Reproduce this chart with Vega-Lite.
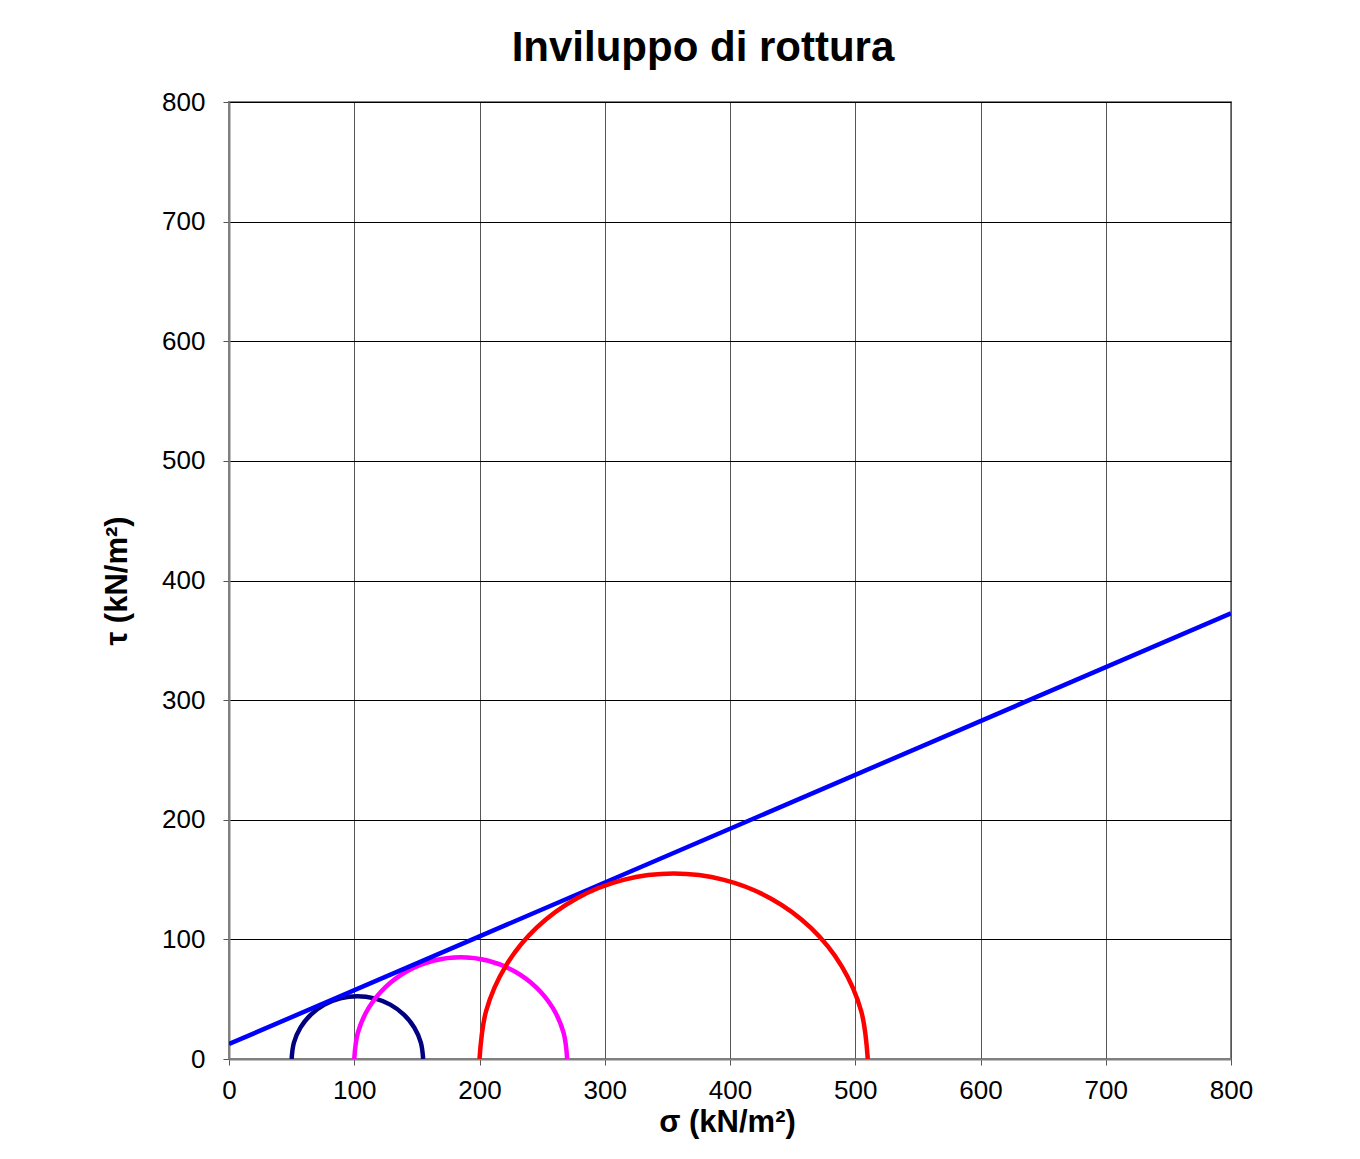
{
  "$schema": "https://vega.github.io/schema/vega-lite/v6.json",
  "width": 1002,
  "height": 957,
  "autosize": {"type": "none"},
  "padding": {"left": 229, "top": 102, "right": 129, "bottom": 100},
  "background": "white",
  "title": {
    "text": "Inviluppo di rottura",
    "font": "Liberation Sans",
    "fontSize": 42,
    "fontWeight": "bold",
    "color": "black",
    "anchor": "middle",
    "dx": -27,
    "offset": 19
  },
  "config": {
    "view": {"stroke": "#808080", "strokeWidth": 2},
    "axis": {
      "labelFont": "Liberation Sans",
      "labelFontSize": 26,
      "labelColor": "black",
      "labelFlush": false,
      "titleFont": "Liberation Sans",
      "titleFontSize": 31,
      "titleFontWeight": "bold",
      "titleColor": "black",
      "domainColor": "#808080",
      "domainWidth": 2,
      "tickColor": "#555555",
      "tickSize": 6,
      "tickWidth": 1,
      "grid": true,
      "gridOpacity": 1
    }
  },
  "data": {
    "values": [
      {"serie": "C1", "i": 0, "s": 50, "t": 0},
      {"serie": "C1", "i": 1, "s": 51.79, "t": 13.59},
      {"serie": "C1", "i": 2, "s": 57.03, "t": 26.25},
      {"serie": "C1", "i": 3, "s": 65.38, "t": 37.12},
      {"serie": "C1", "i": 4, "s": 76.25, "t": 45.47},
      {"serie": "C1", "i": 5, "s": 88.91, "t": 50.71},
      {"serie": "C1", "i": 6, "s": 102.5, "t": 52.5},
      {"serie": "C1", "i": 7, "s": 116.09, "t": 50.71},
      {"serie": "C1", "i": 8, "s": 128.75, "t": 45.47},
      {"serie": "C1", "i": 9, "s": 139.62, "t": 37.12},
      {"serie": "C1", "i": 10, "s": 147.97, "t": 26.25},
      {"serie": "C1", "i": 11, "s": 153.21, "t": 13.59},
      {"serie": "C1", "i": 12, "s": 155, "t": 0},
      {"serie": "C2", "i": 0, "s": 100, "t": 0},
      {"serie": "C2", "i": 1, "s": 102.9, "t": 22.0},
      {"serie": "C2", "i": 2, "s": 111.39, "t": 42.5},
      {"serie": "C2", "i": 3, "s": 124.9, "t": 60.1},
      {"serie": "C2", "i": 4, "s": 142.5, "t": 73.61},
      {"serie": "C2", "i": 5, "s": 163.0, "t": 82.1},
      {"serie": "C2", "i": 6, "s": 185, "t": 85},
      {"serie": "C2", "i": 7, "s": 207.0, "t": 82.1},
      {"serie": "C2", "i": 8, "s": 227.5, "t": 73.61},
      {"serie": "C2", "i": 9, "s": 245.1, "t": 60.1},
      {"serie": "C2", "i": 10, "s": 258.61, "t": 42.5},
      {"serie": "C2", "i": 11, "s": 267.1, "t": 22.0},
      {"serie": "C2", "i": 12, "s": 270, "t": 0},
      {"serie": "Inviluppo", "i": 0, "s": 0, "t": 12.5},
      {"serie": "Inviluppo", "i": 1, "s": 800, "t": 372.5},
      {"serie": "C3", "i": 0, "s": 200, "t": 0},
      {"serie": "C3", "i": 1, "s": 205.28, "t": 40.12},
      {"serie": "C3", "i": 2, "s": 220.77, "t": 77.5},
      {"serie": "C3", "i": 3, "s": 245.4, "t": 109.6},
      {"serie": "C3", "i": 4, "s": 277.5, "t": 134.23},
      {"serie": "C3", "i": 5, "s": 314.88, "t": 149.72},
      {"serie": "C3", "i": 6, "s": 355, "t": 155},
      {"serie": "C3", "i": 7, "s": 395.12, "t": 149.72},
      {"serie": "C3", "i": 8, "s": 432.5, "t": 134.23},
      {"serie": "C3", "i": 9, "s": 464.6, "t": 109.6},
      {"serie": "C3", "i": 10, "s": 489.23, "t": 77.5},
      {"serie": "C3", "i": 11, "s": 504.72, "t": 40.12},
      {"serie": "C3", "i": 12, "s": 510, "t": 0}
    ]
  },
  "mark": {"type": "line", "interpolate": "catmull-rom", "strokeWidth": 4.5, "clip": true},
  "encoding": {
    "x": {
      "field": "s",
      "type": "quantitative",
      "scale": {"domain": [0, 800], "nice": false, "zero": false},
      "axis": {
        "title": "σ (kN/m²)",
        "values": [0, 100, 200, 300, 400, 500, 600, 700, 800],
        "labelPadding": 12,
        "titlePadding": 4,
        "titleX": 498,
        "gridColor": "#555555",
        "gridWidth": 1
      }
    },
    "y": {
      "field": "t",
      "type": "quantitative",
      "scale": {"domain": [0, 800], "nice": false, "zero": false},
      "axis": {
        "title": "τ (kN/m²)",
        "values": [0, 100, 200, 300, 400, 500, 600, 700, 800],
        "labelPadding": 18,
        "titlePadding": 28,
        "gridColor": "#000000",
        "gridWidth": 1
      }
    },
    "order": {"field": "i", "type": "quantitative"},
    "color": {
      "field": "serie",
      "type": "nominal",
      "scale": {
        "domain": ["C1", "C2", "Inviluppo", "C3"],
        "range": ["#000080", "#FF00FF", "#0000FF", "#FF0000"]
      },
      "legend": null
    }
  }
}
